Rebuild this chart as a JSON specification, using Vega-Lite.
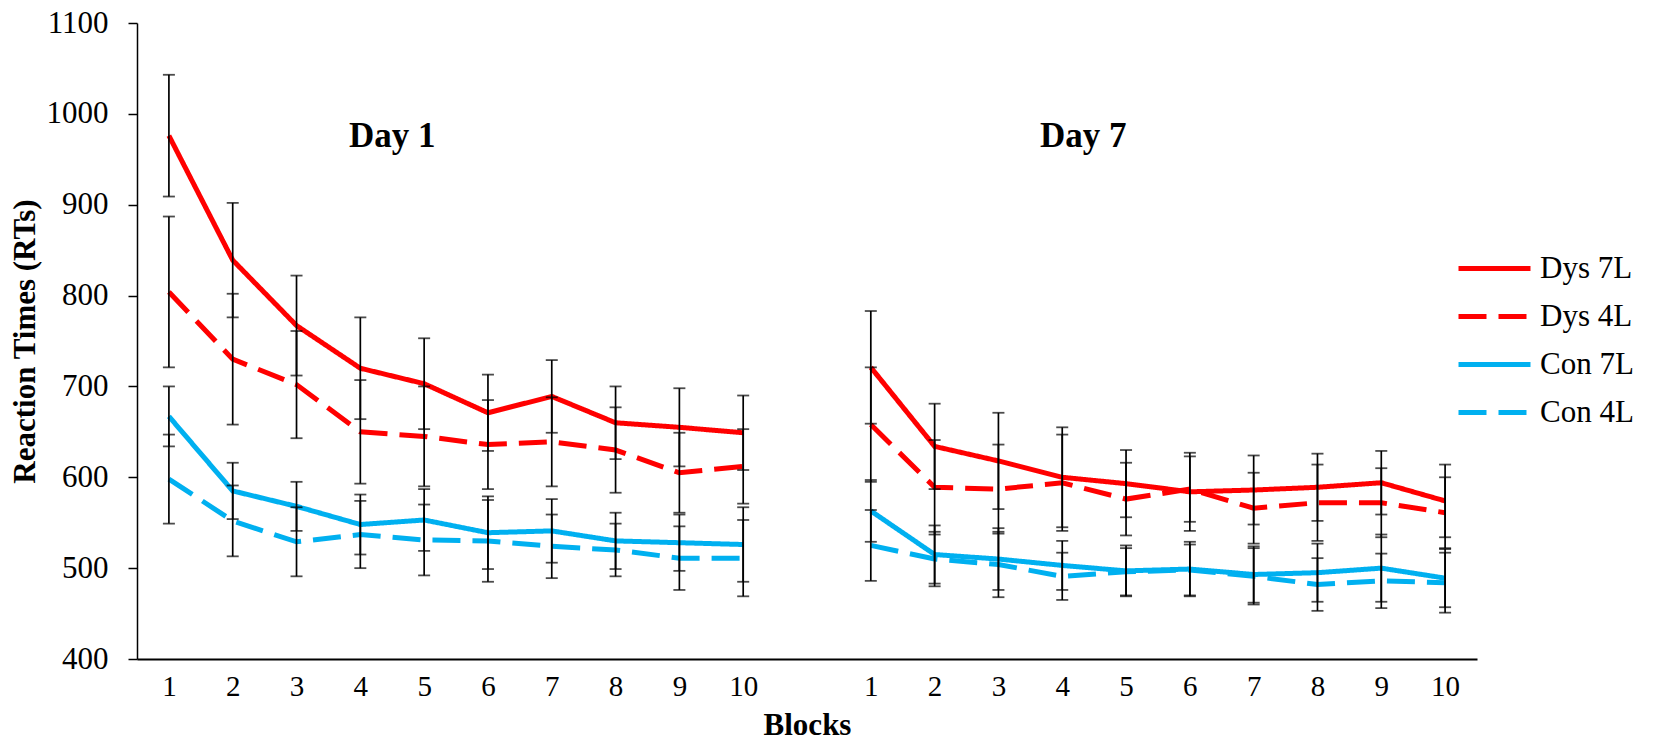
{
  "$schema": "https://vega.github.io/schema/vega-lite/v6.json",
  "width": 1340,
  "height": 636,
  "autosize": "none",
  "padding": {"left": 137, "top": 23, "right": 176, "bottom": 89},
  "background": "white",
  "config": {
    "font": "Liberation Serif",
    "view": {"stroke": null},
    "axis": {"grid": false, "labelColor": "black", "titleColor": "black", "domainColor": "black", "tickColor": "black"}
  },
  "data": {
    "values": [
      {"t":"1-1","day":"Day 1","series":"Dys 7L","rt":976,"err":67},
      {"t":"1-2","day":"Day 1","series":"Dys 7L","rt":839,"err":63},
      {"t":"1-3","day":"Day 1","series":"Dys 7L","rt":767,"err":55},
      {"t":"1-4","day":"Day 1","series":"Dys 7L","rt":720,"err":56},
      {"t":"1-5","day":"Day 1","series":"Dys 7L","rt":703,"err":50},
      {"t":"1-6","day":"Day 1","series":"Dys 7L","rt":671,"err":42},
      {"t":"1-7","day":"Day 1","series":"Dys 7L","rt":689,"err":40},
      {"t":"1-8","day":"Day 1","series":"Dys 7L","rt":660,"err":40},
      {"t":"1-9","day":"Day 1","series":"Dys 7L","rt":655,"err":43},
      {"t":"1-10","day":"Day 1","series":"Dys 7L","rt":649,"err":41},
      {"t":"1-1","day":"Day 1","series":"Dys 4L","rt":804,"err":83},
      {"t":"1-2","day":"Day 1","series":"Dys 4L","rt":730,"err":72},
      {"t":"1-3","day":"Day 1","series":"Dys 4L","rt":702,"err":59},
      {"t":"1-4","day":"Day 1","series":"Dys 4L","rt":650,"err":57},
      {"t":"1-5","day":"Day 1","series":"Dys 4L","rt":645,"err":55},
      {"t":"1-6","day":"Day 1","series":"Dys 4L","rt":636,"err":49},
      {"t":"1-7","day":"Day 1","series":"Dys 4L","rt":639,"err":49},
      {"t":"1-8","day":"Day 1","series":"Dys 4L","rt":630,"err":47},
      {"t":"1-9","day":"Day 1","series":"Dys 4L","rt":605,"err":44},
      {"t":"1-10","day":"Day 1","series":"Dys 4L","rt":612,"err":41},
      {"t":"1-1","day":"Day 1","series":"Con 7L","rt":667,"err":33},
      {"t":"1-2","day":"Day 1","series":"Con 7L","rt":585,"err":31},
      {"t":"1-3","day":"Day 1","series":"Con 7L","rt":568,"err":27},
      {"t":"1-4","day":"Day 1","series":"Con 7L","rt":548,"err":33},
      {"t":"1-5","day":"Day 1","series":"Con 7L","rt":553,"err":34},
      {"t":"1-6","day":"Day 1","series":"Con 7L","rt":539,"err":40},
      {"t":"1-7","day":"Day 1","series":"Con 7L","rt":541,"err":35},
      {"t":"1-8","day":"Day 1","series":"Con 7L","rt":530,"err":31},
      {"t":"1-9","day":"Day 1","series":"Con 7L","rt":528,"err":31},
      {"t":"1-10","day":"Day 1","series":"Con 7L","rt":526,"err":41},
      {"t":"1-1","day":"Day 1","series":"Con 4L","rt":598,"err":49},
      {"t":"1-2","day":"Day 1","series":"Con 4L","rt":552,"err":39},
      {"t":"1-3","day":"Day 1","series":"Con 4L","rt":529,"err":38},
      {"t":"1-4","day":"Day 1","series":"Con 4L","rt":537,"err":37},
      {"t":"1-5","day":"Day 1","series":"Con 4L","rt":531,"err":39},
      {"t":"1-6","day":"Day 1","series":"Con 4L","rt":530,"err":45},
      {"t":"1-7","day":"Day 1","series":"Con 4L","rt":524,"err":35},
      {"t":"1-8","day":"Day 1","series":"Con 4L","rt":520,"err":29},
      {"t":"1-9","day":"Day 1","series":"Con 4L","rt":511,"err":35},
      {"t":"1-10","day":"Day 1","series":"Con 4L","rt":511,"err":42},
      {"t":"7-1","day":"Day 7","series":"Dys 7L","rt":721,"err":62},
      {"t":"7-2","day":"Day 7","series":"Dys 7L","rt":634,"err":47},
      {"t":"7-3","day":"Day 7","series":"Dys 7L","rt":618,"err":53},
      {"t":"7-4","day":"Day 7","series":"Dys 7L","rt":600,"err":55},
      {"t":"7-5","day":"Day 7","series":"Dys 7L","rt":593,"err":37},
      {"t":"7-6","day":"Day 7","series":"Dys 7L","rt":584,"err":43},
      {"t":"7-7","day":"Day 7","series":"Dys 7L","rt":586,"err":38},
      {"t":"7-8","day":"Day 7","series":"Dys 7L","rt":589,"err":37},
      {"t":"7-9","day":"Day 7","series":"Dys 7L","rt":594,"err":35},
      {"t":"7-10","day":"Day 7","series":"Dys 7L","rt":574,"err":40},
      {"t":"7-1","day":"Day 7","series":"Dys 4L","rt":658,"err":63},
      {"t":"7-2","day":"Day 7","series":"Dys 4L","rt":589,"err":52},
      {"t":"7-3","day":"Day 7","series":"Dys 4L","rt":587,"err":49},
      {"t":"7-4","day":"Day 7","series":"Dys 4L","rt":594,"err":53},
      {"t":"7-5","day":"Day 7","series":"Dys 4L","rt":576,"err":40},
      {"t":"7-6","day":"Day 7","series":"Dys 4L","rt":587,"err":36},
      {"t":"7-7","day":"Day 7","series":"Dys 4L","rt":566,"err":39},
      {"t":"7-8","day":"Day 7","series":"Dys 4L","rt":572,"err":42},
      {"t":"7-9","day":"Day 7","series":"Dys 4L","rt":572,"err":38},
      {"t":"7-10","day":"Day 7","series":"Dys 4L","rt":561,"err":39},
      {"t":"7-1","day":"Day 7","series":"Con 7L","rt":563,"err":34},
      {"t":"7-2","day":"Day 7","series":"Con 7L","rt":515,"err":32},
      {"t":"7-3","day":"Day 7","series":"Con 7L","rt":510,"err":34},
      {"t":"7-4","day":"Day 7","series":"Con 7L","rt":503,"err":27},
      {"t":"7-5","day":"Day 7","series":"Con 7L","rt":497,"err":28},
      {"t":"7-6","day":"Day 7","series":"Con 7L","rt":499,"err":30},
      {"t":"7-7","day":"Day 7","series":"Con 7L","rt":493,"err":31},
      {"t":"7-8","day":"Day 7","series":"Con 7L","rt":495,"err":32},
      {"t":"7-9","day":"Day 7","series":"Con 7L","rt":500,"err":37},
      {"t":"7-10","day":"Day 7","series":"Con 7L","rt":489,"err":32},
      {"t":"7-1","day":"Day 7","series":"Con 4L","rt":525,"err":39},
      {"t":"7-2","day":"Day 7","series":"Con 4L","rt":510,"err":30},
      {"t":"7-3","day":"Day 7","series":"Con 4L","rt":504,"err":36},
      {"t":"7-4","day":"Day 7","series":"Con 4L","rt":491,"err":26},
      {"t":"7-5","day":"Day 7","series":"Con 4L","rt":496,"err":26},
      {"t":"7-6","day":"Day 7","series":"Con 4L","rt":498,"err":28},
      {"t":"7-7","day":"Day 7","series":"Con 4L","rt":491,"err":31},
      {"t":"7-8","day":"Day 7","series":"Con 4L","rt":482,"err":29},
      {"t":"7-9","day":"Day 7","series":"Con 4L","rt":486,"err":30},
      {"t":"7-10","day":"Day 7","series":"Con 4L","rt":484,"err":33}
    ]
  },
  "encoding": {
    "x": {
      "field": "t",
      "type": "ordinal",
      "scale": {
        "type": "point",
        "padding": 0.5,
        "domain": ["1-1","1-2","1-3","1-4","1-5","1-6","1-7","1-8","1-9","1-10","gap","7-1","7-2","7-3","7-4","7-5","7-6","7-7","7-8","7-9","7-10"]
      },
      "axis": {
        "title": "Blocks",
        "titleFontSize": 31,
        "titleFontWeight": "bold",
        "titlePadding": 9,
        "labelExpr": "datum.value == 'gap' ? '' : split(datum.value, '-')[1]",
        "labelAngle": 0,
        "labelFontSize": 29,
        "labelPadding": 13,
        "ticks": false,
        "domainWidth": 2
      }
    }
  },
  "layer": [
    {
      "mark": {"type": "line", "strokeWidth": 5},
      "encoding": {
        "y": {
          "field": "rt",
          "type": "quantitative",
          "title": "Reaction Times (RTs)",
          "scale": {"domain": [400, 1100], "nice": false, "zero": false},
          "axis": {
            "titleFontSize": 31,
            "titleFontWeight": "bold",
            "titlePadding": 5,
            "format": "d",
            "values": [400,500,600,700,800,900,1000,1100],
            "labelFontSize": 31,
            "labelPadding": 20,
            "tickSize": 9,
            "tickWidth": 1.5,
            "domainWidth": 1.5
          }
        },
        "color": {
          "field": "series",
          "type": "nominal",
          "title": null,
          "scale": {"domain": ["Dys 7L","Dys 4L","Con 7L","Con 4L"], "range": ["#FF0000","#FF0000","#00B0F0","#00B0F0"]},
          "legend": {
            "orient": "none",
            "legendX": 1342,
            "legendY": 230,
            "padding": 0,
            "symbolType": "M-3,0H3",
            "symbolSize": 576,
            "symbolStrokeWidth": 5,
            "labelFontSize": 31,
            "labelColor": "black",
            "labelOffset": 30,
            "rowPadding": 16
          }
        },
        "strokeDash": {
          "field": "series",
          "type": "nominal",
          "title": null,
          "scale": {"domain": ["Dys 7L","Dys 4L","Con 7L","Con 4L"], "range": [[1,0],[28,12],[1,0],[28,12]]}
        },
        "detail": {"field": "day"}
      }
    },
    {
      "mark": {"type": "errorbar", "color": "black", "ticks": {"size": 12, "thickness": 1.8, "color": "black"}, "rule": {"strokeWidth": 1.7}},
      "encoding": {
        "y": {"field": "rt", "type": "quantitative", "title": "Reaction Times (RTs)"},
        "yError": {"field": "err"},
        "detail": {"field": "series"}
      }
    },
    {
      "data": {"values": [{"label": "Day 1"}]},
      "mark": {"type": "text", "fontSize": 35, "fontWeight": "bold", "align": "center", "baseline": "alphabetic", "dx": 32},
      "encoding": {"x": {"datum": "1-4"}, "y": {"datum": 964}, "text": {"field": "label"}}
    },
    {
      "data": {"values": [{"label": "Day 7"}]},
      "mark": {"type": "text", "fontSize": 35, "fontWeight": "bold", "align": "center", "baseline": "alphabetic", "dx": 21},
      "encoding": {"x": {"datum": "7-4"}, "y": {"datum": 964}, "text": {"field": "label"}}
    }
  ]
}
